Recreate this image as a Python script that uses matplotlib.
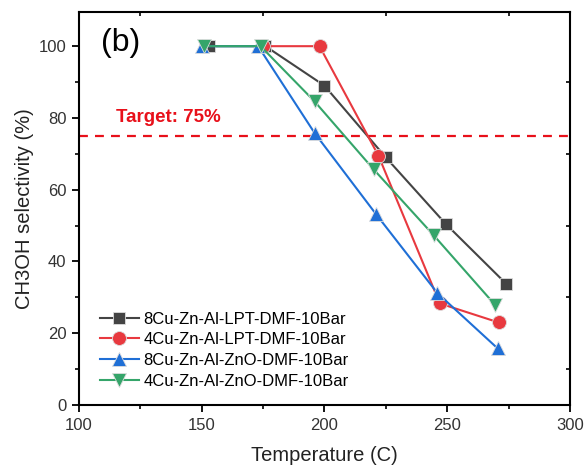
import matplotlib
matplotlib.use("Agg")
import matplotlib.pyplot as plt
from matplotlib.ticker import MultipleLocator

plt.rcParams["font.family"] = ["Liberation Sans", "DejaVu Sans"]

# Temperatures (C) and CH3OH selectivity (%) for each catalyst
t_8lpt = [153, 176, 200, 225, 249.5, 274]
s_8lpt = [100, 100, 89, 69, 50.4, 33.8]

t_4lpt = [175, 198, 222, 247, 271]
s_4lpt = [100, 100, 69.5, 28.3, 23.0]

t_8zno = [150, 173, 196, 221, 246, 270.5]
s_8zno = [100, 100, 75.8, 53.2, 31.2, 15.8]

t_4zno = [151, 174, 196, 220, 244.5, 269.5]
s_4zno = [100, 100, 84.6, 65.7, 47.3, 27.9]

labels = ["8Cu-Zn-Al-LPT-DMF-10Bar", "4Cu-Zn-Al-LPT-DMF-10Bar",
          "8Cu-Zn-Al-ZnO-DMF-10Bar", "4Cu-Zn-Al-ZnO-DMF-10Bar"]
target = 75

fig = plt.figure(figsize=(5.84, 4.65), dpi=100)
ax = fig.add_axes([0.135, 0.129, 0.841, 0.845])

series = [
    (t_8lpt, s_8lpt, "#444444", "s", 9),
    (t_4lpt, s_4lpt, "#e8393f", "o", 10),
    (t_8zno, s_8zno, "#1f6fd6", "^", 10),
    (t_4zno, s_4zno, "#35a56a", "v", 10),
]
for (t, s, c, m, ms), lab in zip(series, labels):
    ax.plot(t, s, color=c, lw=1.5, marker=m, ms=ms, mfc=c,
            mec="#dddddd", mew=0.6, label=lab)

ax.axhline(target, color="#e8101a", lw=1.6, ls=(0, (4, 3.2)), zorder=1)
ax.text(115, 80, "Target: 75%", color="#e8101a", fontsize=13.5,
        fontweight="bold", va="center", ha="left")
ax.text(109, 101, "(b)", fontsize=23, va="center", ha="left")

ax.set_xlim(100, 300)
ax.set_ylim(0, 109.5)
ax.xaxis.set_major_locator(MultipleLocator(50))
ax.xaxis.set_minor_locator(MultipleLocator(25))
ax.yaxis.set_major_locator(MultipleLocator(20))
ax.yaxis.set_minor_locator(MultipleLocator(10))
ax.tick_params(which="major", direction="out", length=5, width=1.3,
               labelsize=12, labelcolor="#333333", pad=4)
ax.tick_params(which="minor", direction="out", length=3, width=1.2)
for sp in ax.spines.values():
    sp.set_linewidth(1.5)

# minor-only ticks on the opposite axes, pointing inward
secx = ax.secondary_xaxis("top")
secx.set_xticks([125, 175, 225, 275])
secx.tick_params(direction="in", length=3, width=1.2, labeltop=False)
secx.spines["top"].set_visible(False)
secy = ax.secondary_yaxis("right")
secy.set_yticks([10, 30, 50, 70, 90])
secy.tick_params(direction="in", length=3, width=1.2, labelright=False)
secy.spines["right"].set_visible(False)

ax.set_xlabel("Temperature (C)", fontsize=14.5, color="#222222", labelpad=10)
ax.set_ylabel("CH3OH selectivity (%)", fontsize=14.5, color="#222222", labelpad=3)

ax.legend(loc="lower left", bbox_to_anchor=(0.03, 0.025), frameon=False,
          fontsize=12, handlelength=2.3, handletextpad=0.3,
          labelspacing=0.34, borderaxespad=0, markerscale=1.0)

fig.savefig("out.png", dpi=100)
